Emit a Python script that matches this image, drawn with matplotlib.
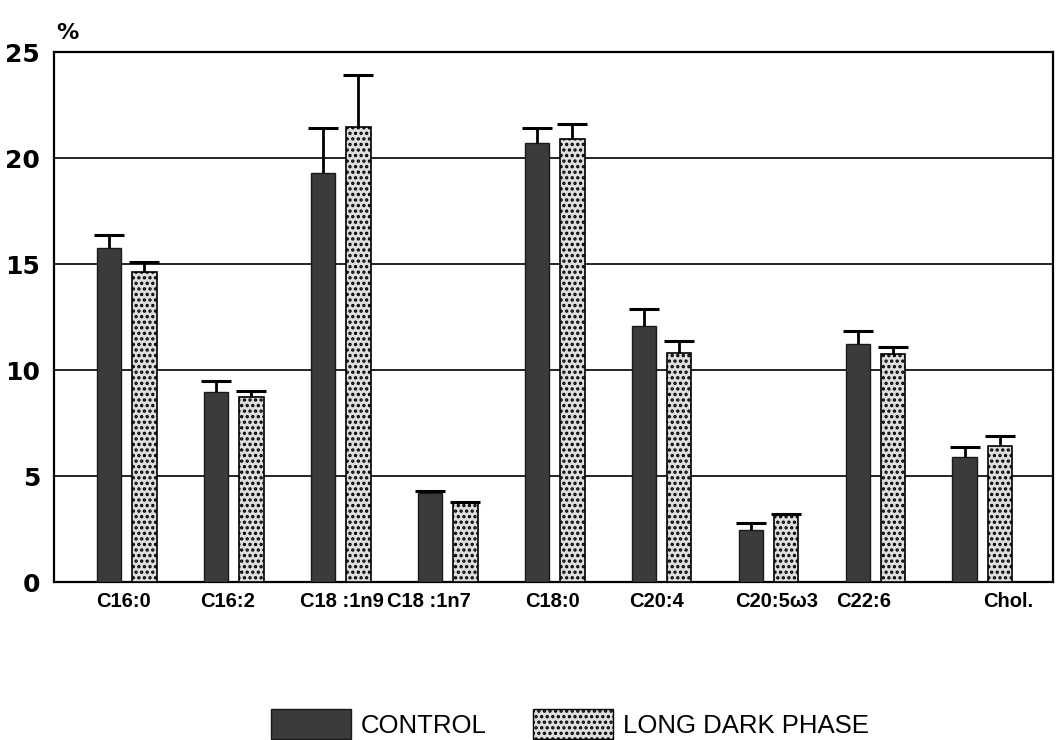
import matplotlib
matplotlib.use("Agg")
import matplotlib.pyplot as plt
import numpy as np
from matplotlib.patches import Patch

# Fatty-acid composition (% of total) with upper SEM
categories = ["C16:0", "C16:2", "C18 :1n9", "C18 :1n7", "C18:0",
              "C20:4", "C20:5ω3", "C22:6", "Chol."]
control = [15.75, 8.96, 19.3, 4.2, 20.7, 12.08, 2.45, 11.23, 5.9]
control_err = [0.6, 0.52, 2.1, 0.08, 0.7, 0.8, 0.33, 0.6, 0.47]
long_dark = [14.62, 8.73, 21.46, 3.72, 20.9, 10.8, 3.14, 10.75, 6.42]
long_dark_err = [0.48, 0.28, 2.45, 0.06, 0.7, 0.57, 0.06, 0.33, 0.47]
yticks = [0, 5, 10, 15, 20, 25]
series_names = ["CONTROL", "LONG DARK PHASE"]

# label nudges along x (in category units) so the names sit like the printed figure
label_shift = [-0.03, -0.06, 0.01, -0.17, -0.02, -0.05, 0.08, -0.11, 0.24]

plt.rcParams["hatch.linewidth"] = 1.6

fig = plt.figure(figsize=(10.56, 7.40), dpi=100)
ax = fig.add_axes([0.0511, 0.2135, 0.9461, 0.7162])

x = np.arange(len(categories))
off = 0.165
w = 0.23
dark = "#3b3b3b"
light = "#dedede"

ax.bar(x - off, control, width=w, color=dark, edgecolor="#1a1a1a",
       linewidth=1.0, zorder=3)
ax.bar(x + off, long_dark, width=w, color=light, edgecolor="black",
       hatch="...", linewidth=1.2, zorder=3)

# upper-only error bars with caps
cap = 0.14
for xs, v, e in ((x - off, control, control_err), (x + off, long_dark, long_dark_err)):
    v = np.asarray(v)
    e = np.asarray(e)
    ax.vlines(xs, v, v + e, colors="black", linewidth=2.0, zorder=4)
    ax.hlines(v + e, xs - cap, xs + cap, colors="black", linewidth=2.2, zorder=4)

ax.set_xlim(-0.68, 8.66)
ax.set_ylim(0, 25)
ax.set_yticks(yticks)
ax.set_yticklabels([str(t) for t in yticks], fontsize=18, fontweight="bold",
                   family="DejaVu Sans")
ax.tick_params(axis="y", length=0, pad=10)
ax.set_xticks([])

for t in yticks[1:-1]:
    ax.axhline(t, color="black", linewidth=1.2, zorder=1)

for s in ax.spines.values():
    s.set_linewidth(1.6)
    s.set_color("black")

for xi, name, sh in zip(x, categories, label_shift):
    ax.text(xi + sh, -0.018, name, transform=ax.get_xaxis_transform(),
            ha="center", va="top", fontsize=14.5, fontweight="bold",
            family="Liberation Sans")

fig.text(0.053, 0.955, "%", fontsize=16, fontweight="bold",
         family="DejaVu Sans", ha="left", va="center")

handles = [Patch(facecolor=dark, edgecolor="#1a1a1a"),
           Patch(facecolor=light, edgecolor="black", hatch="...")]
fig.legend(handles, series_names, loc="lower center", bbox_to_anchor=(0.54, -0.03),
           ncol=2, frameon=False, handlelength=3.1, handleheight=1.4,
           columnspacing=1.8, handletextpad=0.4,
           prop={"family": "Liberation Sans", "size": 18.5})

fig.savefig("out.png", dpi=100)
